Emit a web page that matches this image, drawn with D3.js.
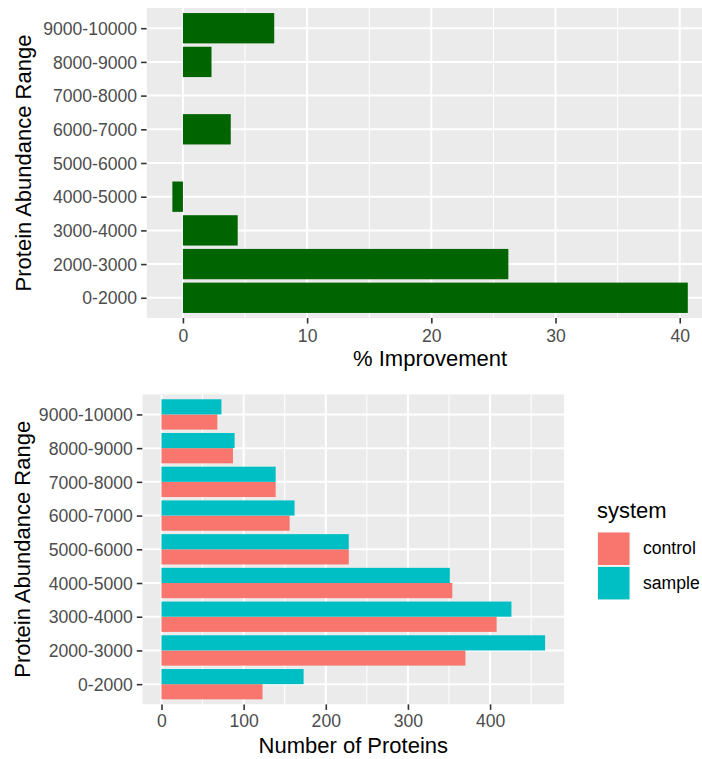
<!DOCTYPE html>
<html>
<head>
<meta charset="utf-8">
<script src="https://cdn.jsdelivr.net/npm/d3@7"></script>
<style>
  html, body { margin: 0; padding: 0; background: #fff; }
  svg { display: block; font-family: "Liberation Sans", Arial, sans-serif; }
</style>
</head>
<body>
<svg id="chart" width="702" height="759"></svg>
<script>
// Abundance bins (bottom to top on the category axis)
const ranges = ["0-2000", "2000-3000", "3000-4000", "4000-5000", "5000-6000",
                "6000-7000", "7000-8000", "8000-9000", "9000-10000"];
// Percentage improvement of sample over control per bin
const improvement = [40.65, 26.2, 4.41, -0.85, 0, 3.85, 0, 2.3, 7.35];
// Protein counts per bin
const controlCounts = [123, 370, 408, 354, 228, 156, 139, 87, 68];
const sampleCounts  = [173, 467, 426, 351, 228, 162, 139, 89, 73];
const systems = ["control", "sample"];
const systemColors = ["#F8766D", "#00BFC4"];
const improvementTicks = [0, 10, 20, 30, 40];
const countTicks = [0, 100, 200, 300, 400];

const svg = d3.select("#chart");
const TICK_FS = 17.6, TITLE_FS = 22;
const PANEL_BG = "#EBEBEB", TICK_COL = "#4D4D4D", TICK_LINE = "#333333";

// ggplot-like continuous expansion (5% each side)
function expanded(lo, hi) {
  const pad = (hi - lo) * 0.05;
  return [lo - pad, hi + pad];
}

function drawPanel(g, opts) {
  const { x, y, left, right, top, bottom, ticks, minor, xTitle, titleBaseline, tickBaseline } = opts;
  const clipId = opts.id + "-clip";
  g.append("clipPath").attr("id", clipId)
    .append("rect").attr("x", left).attr("y", top)
    .attr("width", right - left).attr("height", bottom - top);
  const panel = g.append("g").attr("clip-path", `url(#${clipId})`);
  panel.append("rect").attr("x", left).attr("y", top)
    .attr("width", right - left).attr("height", bottom - top).attr("fill", PANEL_BG);
  // minor grid
  panel.selectAll(".minor").data(minor).join("line")
    .attr("x1", d => x(d)).attr("x2", d => x(d))
    .attr("y1", top).attr("y2", bottom)
    .attr("stroke", "#fff").attr("stroke-width", 1);
  // major grid (vertical)
  panel.selectAll(".majx").data(ticks).join("line")
    .attr("x1", d => x(d)).attr("x2", d => x(d))
    .attr("y1", top).attr("y2", bottom)
    .attr("stroke", "#fff").attr("stroke-width", 2);
  // major grid (horizontal, one per category)
  panel.selectAll(".majy").data(ranges).join("line")
    .attr("x1", left).attr("x2", right)
    .attr("y1", d => y(d)).attr("y2", d => y(d))
    .attr("stroke", "#fff").attr("stroke-width", 2);

  // y axis: ticks and labels
  const yAxis = d3.axisLeft(y).tickSize(5.5).tickPadding(4);
  const ya = g.append("g").attr("transform", `translate(${left},0)`).call(yAxis);
  ya.select(".domain").remove();
  ya.selectAll(".tick line").attr("stroke", TICK_LINE).attr("stroke-width", 1.6);
  ya.selectAll(".tick text").attr("fill", TICK_COL).attr("font-size", TICK_FS)
    .attr("font-family", "Liberation Sans, Arial, sans-serif").attr("dy", "0.35em");

  // x axis
  const xAxis = d3.axisBottom(x).tickValues(ticks).tickSize(5.5).tickPadding(4);
  const xa = g.append("g").attr("transform", `translate(0,${bottom})`).call(xAxis);
  xa.select(".domain").remove();
  xa.selectAll(".tick line").attr("stroke", TICK_LINE).attr("stroke-width", 1.6);
  xa.selectAll(".tick text").attr("fill", TICK_COL).attr("font-size", TICK_FS)
    .attr("font-family", "Liberation Sans, Arial, sans-serif")
    .attr("y", tickBaseline - bottom).attr("dy", 0);

  g.append("text").attr("x", (left + right) / 2).attr("y", titleBaseline)
    .attr("text-anchor", "middle").attr("font-size", TITLE_FS).attr("fill", "#000")
    .text(xTitle);
  g.append("text")
    .attr("transform", `translate(${opts.yTitleX},${(top + bottom) / 2}) rotate(-90)`)
    .attr("text-anchor", "middle").attr("font-size", TITLE_FS).attr("fill", "#000")
    .text("Protein Abundance Range");
  return panel;
}

// ---------- Top: % improvement ----------
{
  const left = 146.6, top = 8, bottom = 318;
  const xDom = expanded(d3.min(improvement), d3.max(improvement));
  const pxPerUnit = 12.42;
  const right = left + (xDom[1] - xDom[0]) * pxPerUnit;
  const x = d3.scaleLinear().domain(xDom).range([left, right]);
  const y = d3.scalePoint().domain(ranges.slice().reverse()).range([top, bottom]).padding(0.6);
  const g = svg.append("g");
  const panel = drawPanel(g, {
    id: "top", x, y, left, right, top, bottom,
    ticks: improvementTicks, minor: [5, 15, 25, 35],
    xTitle: "% Improvement", titleBaseline: 366, tickBaseline: 342, yTitleX: 31
  });
  const bh = y.step() * 0.9;
  panel.selectAll(".bar").data(ranges.map((r, i) => ({ r, v: improvement[i] })))
    .join("rect")
    .attr("x", d => x(Math.min(0, d.v)))
    .attr("width", d => Math.abs(x(d.v) - x(0)))
    .attr("y", d => y(d.r) - bh / 2).attr("height", bh)
    .attr("fill", "#006400");
}

// ---------- Bottom: protein counts ----------
{
  const left = 142.3, right = 564.3, top = 394.2, bottom = 704.4;
  const allCounts = controlCounts.concat(sampleCounts);
  const x = d3.scaleLinear().domain(expanded(0, d3.max(allCounts))).range([left, right]);
  const y = d3.scalePoint().domain(ranges.slice().reverse()).range([top, bottom]).padding(0.6);
  const g = svg.append("g");
  const panel = drawPanel(g, {
    id: "bot", x, y, left, right, top, bottom,
    ticks: countTicks, minor: [50, 150, 250, 350, 450],
    xTitle: "Number of Proteins", titleBaseline: 753, tickBaseline: 727.5, yTitleX: 30
  });
  const band = y.step() * 0.9;
  const sub = d3.scaleBand().domain(["sample", "control"]).range([-band / 2, band / 2]);
  const color = d3.scaleOrdinal().domain(systems).range(systemColors);
  const rows = [];
  ranges.forEach((r, i) => {
    rows.push({ r, s: "control", v: controlCounts[i] });
    rows.push({ r, s: "sample", v: sampleCounts[i] });
  });
  panel.selectAll(".bar").data(rows).join("rect")
    .attr("x", x(0)).attr("width", d => x(d.v) - x(0))
    .attr("y", d => y(d.r) + sub(d.s)).attr("height", sub.bandwidth())
    .attr("fill", d => color(d.s));

  // legend
  const lg = svg.append("g");
  lg.append("text").attr("x", 597).attr("y", 518).attr("font-size", TITLE_FS)
    .attr("fill", "#000").text("system");
  const keySize = 32.5;
  systems.forEach((s, i) => {
    const ky = 532 + i * 34.4;
    lg.append("rect").attr("x", 597).attr("y", ky).attr("width", keySize + 1).attr("height", keySize + 1)
      .attr("fill", "#F2F2F2");
    lg.append("rect").attr("x", 598).attr("y", ky + 0.5).attr("width", keySize - 1).attr("height", keySize)
      .attr("fill", color(s));
    lg.append("text").attr("x", 643).attr("y", ky + keySize / 2 + 6.2)
      .attr("font-size", TICK_FS).attr("fill", "#000").text(s);
  });
}
</script>
</body>
</html>
